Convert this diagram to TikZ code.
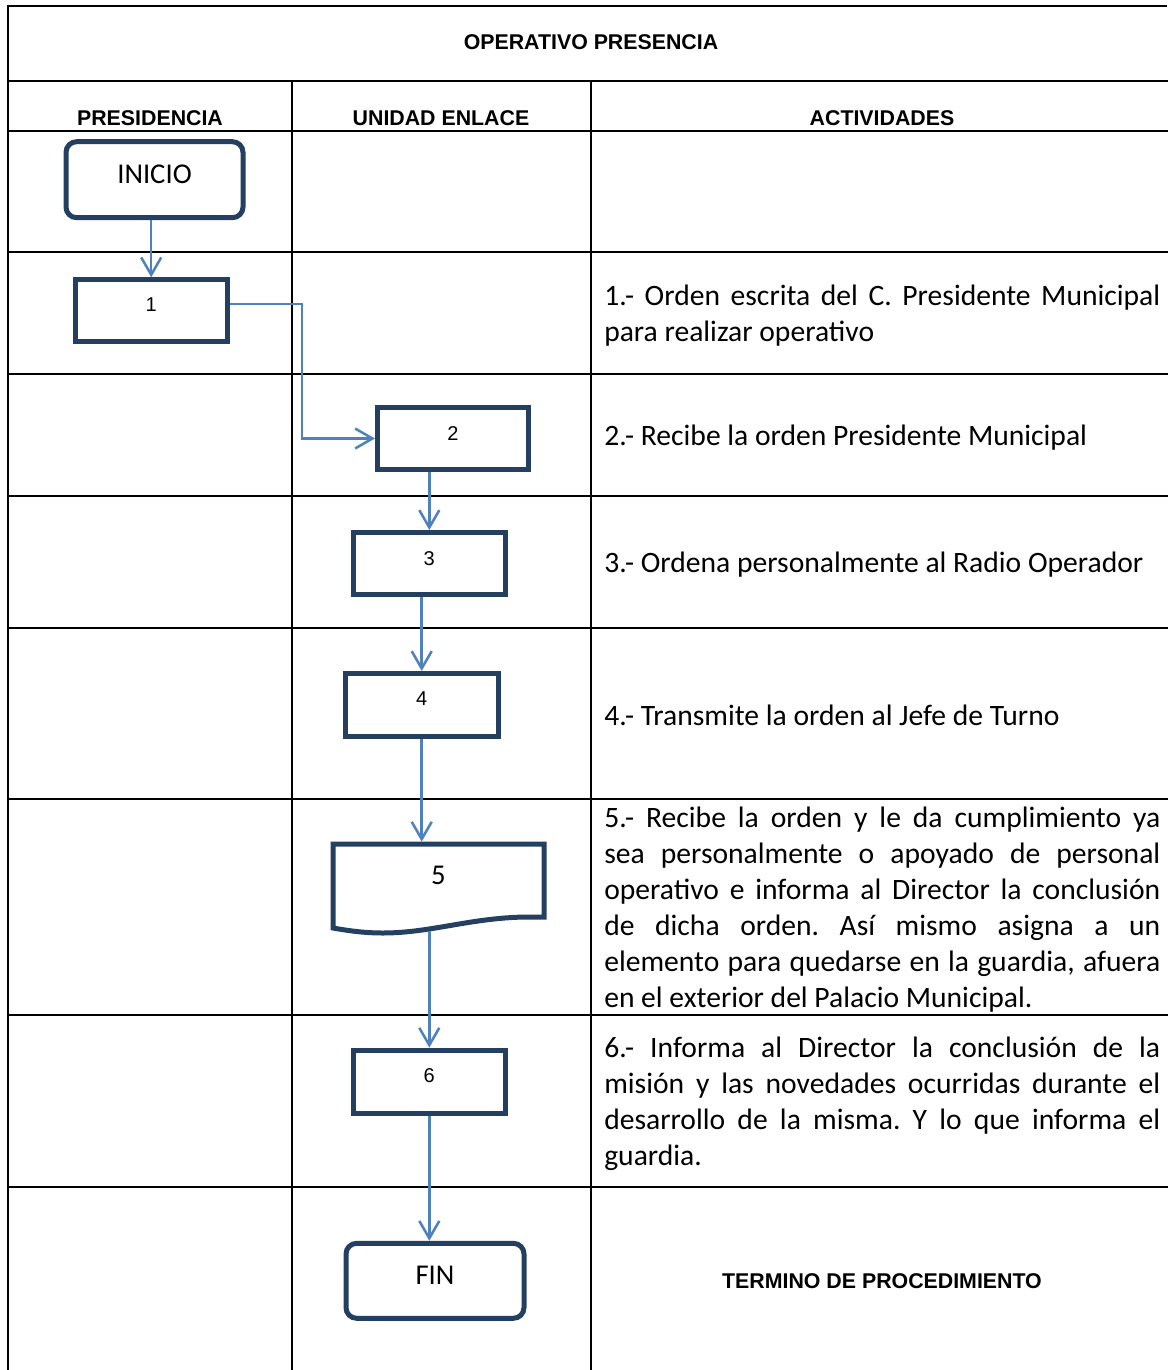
\documentclass[tikz,border=0pt]{standalone}
\usepackage{fontspec}
\setmainfont{Carlito}
\newfontfamily\arialfont{Liberation Sans}
\usetikzlibrary{arrows.meta,calc}
\definecolor{navy}{HTML}{243F60}
\definecolor{flowblue}{HTML}{4F81BD}
\hyphenpenalty=10000
\exhyphenpenalty=10000
\frenchspacing
\begin{document}
\begin{tikzpicture}[x=0.75pt,y=-0.75pt,
  grid/.style={line width=2.2pt, draw=black},
  stepbox/.style={draw=navy, line width=3.75pt, rectangle, inner sep=0pt, fill=white, minimum width=114pt, minimum height=46.5pt},
  termbox/.style={stepbox, rounded corners=8pt, minimum width=133pt, minimum height=56.5pt},
  numlbl/.style={font={\arialfont\fontsize{15}{18}\selectfont}, anchor=base, inner sep=0pt},
  biglbl/.style={font={\fontsize{21.5}{25}\selectfont}, anchor=base, inner sep=0pt},
  hdr/.style={font={\arialfont\bfseries\fontsize{16}{19}\selectfont}, anchor=base, inner sep=0pt},
  desc/.style={font={\fontsize{22.2}{27}\selectfont}, text width=417pt, align=justify, anchor=west, inner sep=0pt},
  flow/.style={draw=flowblue, line width=1.9pt, -{Straight Barb[length=13pt,width=15pt,line width=1.9pt]}}
]
\useasboundingbox (0,0) rectangle (1167,1370);
% table grid
\draw[grid] (1167,6) -- (8,6) -- (8,1372);
\foreach \yy in {81,131,252,374,496,628,799,1015,1187}
  \draw[grid] (8,\yy) -- (1169,\yy);
\draw[grid] (292,81) -- (292,1372);
\draw[grid] (591,81) -- (591,1372);
% headers
\node[hdr] (title) at (591,49.5) {OPERATIVO PRESENCIA};
\node[hdr] (hpres) at (150,125) {PRESIDENCIA};
\node[hdr] (hunid) at (441,125) {UNIDAD ENLACE};
\node[hdr] (hact) at (882,125) {ACTIVIDADES};
% flow shapes
\node[termbox, minimum width=132.75pt, minimum height=57pt] (ini) at (154.5,179.7) {};
\node[biglbl] (inilbl) at ($(ini.center)+(0,3.5)$) {INICIO};
\node[stepbox] (b1) at (151.2,310.8) {};
\node[numlbl] (l1) at ($(b1.center)+(0,0.5)$) {1};
\node[stepbox, minimum width=113.25pt] (b2) at (453,438.5) {};
\node[numlbl] (l2) at ($(b2.center)+(0,1.5)$) {2};
\node[stepbox] (b3) at (429.3,563.5) {};
\node[numlbl] (l3) at ($(b3.center)+(0,1.5)$) {3};
\node[stepbox, minimum width=114.75pt, minimum height=47.25pt] (b4) at (421.7,705) {};
\node[numlbl] (l4) at ($(b4.center)+(0,0.5)$) {4};
% document shape 5
\draw[navy, line width=3.75pt, fill=white, line join=miter] (333,844) -- (544,844) -- (544,917) -- (525,917)
  .. controls (470,918) and (430,933) .. (383,933)
  .. controls (365,933) and (350,931) .. (333,928) -- cycle;
\node[minimum width=158.25pt, minimum height=57.5pt, inner sep=0pt, outer sep=0pt] (b5) at (438.7,880) {};
\coordinate (b5s) at (428,931);
\node[biglbl] (l5) at (438.5,884) {5};
\node[stepbox, minimum height=47.25pt] (b6) at (429.3,1081.7) {};
\node[numlbl] (l6) at ($(b6.center)+(0,0.8)$) {6};
\node[termbox, minimum width=133.5pt, minimum height=56.25pt] (fin) at (435,1280.8) {};
\node[biglbl] (finlbl) at ($(fin.center)+(0,4)$) {FIN};
% connectors
\draw[flow] (b1.north |- ini.south) -- (b1.north);
\coordinate (e1) at (302,0);
\draw[flow] ([yshift=5pt]b1.east) -| (e1 |- b2.west) -- (b2.west);
\draw[flow] (b3.north |- b2.south) -- (b3.north);
\draw[flow] (b4.north |- b3.south) -- (b4.north);
\draw[flow] (b4.south) -- (b4.south |- b5.north);
\draw[flow] (b6.north |- b5s) -- (b6.north);
\draw[flow] (b6.south) -- (b6.south |- fin.north);
% descriptions
\node[desc] (d1) at (604,316) {1.- Orden escrita del C. Presidente Municipal\linebreak para realizar operativo};
\node[desc] (d2) at (604,438) {2.- Recibe la orden Presidente Municipal};
\node[desc] (d3) at (604,565) {3.- Ordena personalmente al Radio Operador};
\node[desc] (d4) at (604,715) {4.- Transmite la orden al Jefe de Turno};
\node[desc] (d5) at (604,910) {5.- Recibe la orden y le da cumplimiento ya\linebreak sea personalmente o apoyado de personal\linebreak operativo e informa al Director la conclusión\linebreak de dicha orden. Así mismo asigna a un\linebreak elemento para quedarse en la guardia, afuera\linebreak en el exterior del Palacio Municipal.};
\node[desc] (d6) at (604,1104) {6.- Informa al Director la conclusión de la\linebreak misión y las novedades ocurridas durante el\linebreak desarrollo de la misma. Y lo que informa el\linebreak guardia.};
\node[hdr] (term) at (882,1288) {TERMINO DE PROCEDIMIENTO};
\end{tikzpicture}
\end{document}
